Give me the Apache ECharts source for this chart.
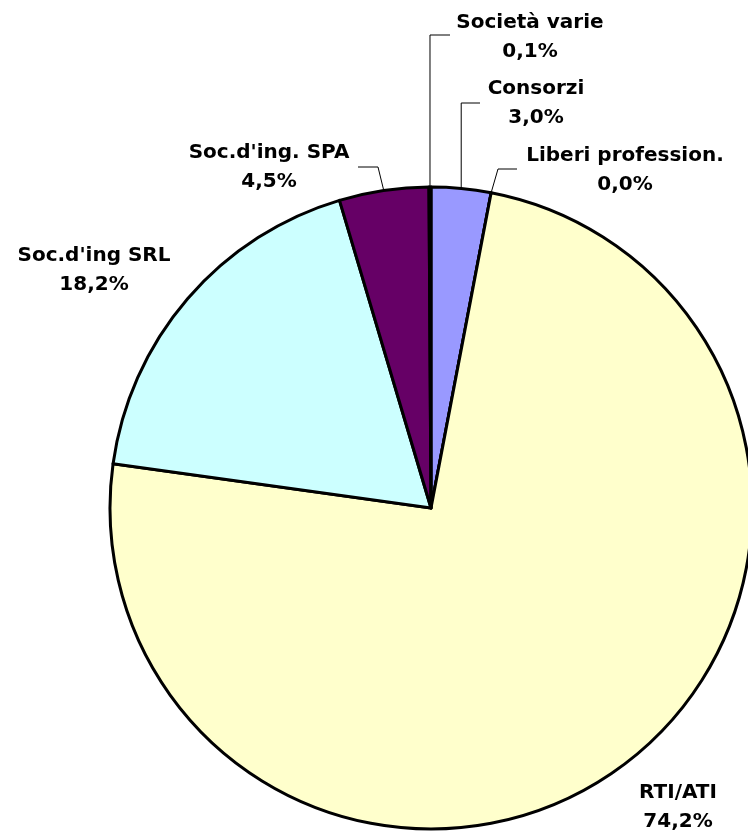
<!DOCTYPE html>
<html>
<head>
<meta charset="utf-8">
<script src="https://cdn.jsdelivr.net/npm/echarts@6/dist/echarts.min.js"></script>
<style>html,body{margin:0;padding:0;background:#fff}#c{width:748px;height:834px}</style>
</head>
<body>
<div id="c"></div>
<script>
const categories = ['Consorzi', 'Liberi profession.', 'RTI/ATI', "Soc.d'ing SRL", "Soc.d'ing. SPA", 'Società varie'];
const values = [3.0, 0.0, 74.2, 18.2, 4.5, 0.1];
const colors = ['#9999FF', '#FFFFCC', '#FFFFCC', '#CCFFFF', '#660066', '#FFFFCC'];

// label placement (centre of text block) and leader-line elbows
const labelPos = [
  {x: 536, y: 103, elbow: [[null, 103], [480, 103]]},
  {x: 625, y: 170, elbow: [[498, 169], [517, 169]]},
  {x: 678, y: 807, elbow: null},
  {x: 94, y: 270, elbow: null},
  {x: 269, y: 167, elbow: [[378, 167], [358, 167]]},
  {x: 530, y: 37, elbow: [[null, 35], [450, 35]]}
];

const chart = echarts.init(document.getElementById('c'));
chart.setOption({
  animation: false,
  series: [{
    type: 'pie',
    center: [431, 508],
    radius: 321,
    startAngle: 90,
    clockwise: true,
    avoidLabelOverlap: false,
    minAngle: 0,
    itemStyle: {borderColor: '#000', borderWidth: 3},
    label: {
      show: true,
      position: 'outside',
      fontFamily: 'DejaVu Sans',
      fontWeight: 'bold',
      fontSize: 20,
      lineHeight: 29,
      color: '#000',
      align: 'center',
      formatter: p => p.name + '\n' + p.value.toFixed(1).replace('.', ',') + '%'
    },
    labelLine: {show: true, length: 10, length2: 10, lineStyle: {color: '#000', width: 1}},
    labelLayout: function (params) {
      const lp = labelPos[params.dataIndex];
      const out = {x: lp.x, y: lp.y, align: 'center', verticalAlign: 'middle'};
      if (lp.elbow && params.labelLinePoints) {
        const s = params.labelLinePoints[0];
        const pts = [[s[0], s[1]]];
        lp.elbow.forEach(e => pts.push([e[0] == null ? s[0] : e[0], e[1]]));
        out.labelLinePoints = pts;
      }
      return out;
    },
    data: categories.map((c, i) => ({
      name: c,
      value: values[i],
      itemStyle: {color: colors[i]},
      labelLine: {show: !!labelPos[i].elbow}
    }))
  }]
});
</script>
</body>
</html>
